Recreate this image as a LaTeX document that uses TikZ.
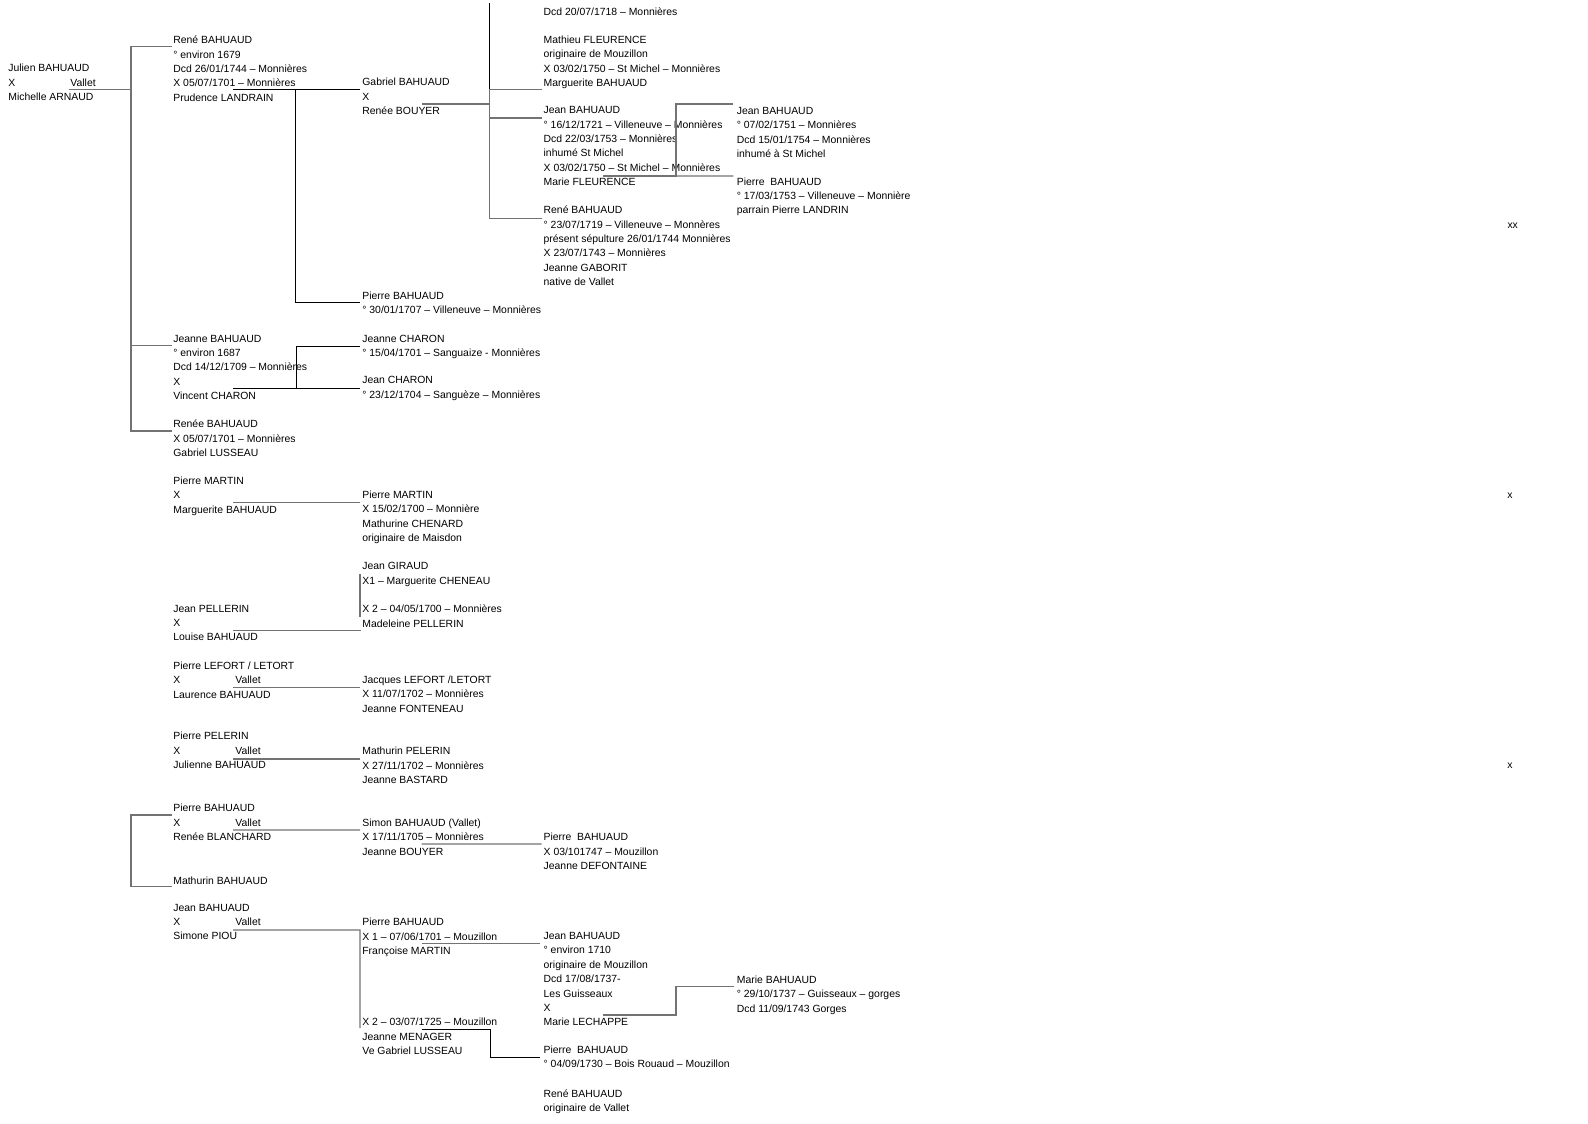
\documentclass[tikz,border=0pt]{standalone}
\usepackage{fontspec}
\setmainfont{Liberation Sans}
\usepackage{tikz}
\usetikzlibrary{calc}
\newcommand{\xvallet}{\rlap{X}\hspace*{32.9pt}Vallet}
\tikzset{
  pers/.style ={anchor=north west, inner sep=0pt, align=left,
                font=\fontsize{5.52}{7.62}\selectfont},
  xmk/.style  ={inner sep=0pt, font=\fontsize{5.52}{7.62}\selectfont},
  link/.style ={draw=black!55, line width=0.75pt},
  dlink/.style={draw=black, line width=0.5pt},
}
\begin{document}
\begin{tikzpicture}[x=0.53pt,y=-0.53pt]
\useasboundingbox (0,0) rectangle (1588,1123);

% generation 1
\node[pers] (julien) at (8,63.8) {Julien BAHUAUD\\ \xvallet\\ Michelle ARNAUD};

% generation 2
\node[pers] (rene)      at (173,35.6)  {René BAHUAUD\\° environ 1679\\Dcd 26/01/1744 – Monnières\\X 05/07/1701 – Monnières\\Prudence LANDRAIN};
\node[pers] (jeanne)    at (173,334.6) {Jeanne BAHUAUD\\° environ 1687\\Dcd 14/12/1709 – Monnières\\X\\Vincent CHARON};
\node[pers] (renee)     at (173,419.7) {Renée BAHUAUD\\X 05/07/1701 – Monnières\\Gabriel LUSSEAU};
\node[pers] (martinP)   at (173,476.6) {Pierre MARTIN\\X\\Marguerite BAHUAUD};
\node[pers] (pellerinJ) at (173,604.6) {Jean PELLERIN\\X\\Louise BAHUAUD};
\node[pers] (lefortP)   at (173,661.3) {Pierre LEFORT / LETORT\\ \xvallet\\Laurence BAHUAUD};
\node[pers] (pelerinP)  at (173,732)   {Pierre PELERIN\\ \xvallet\\Julienne BAHUAUD};
\node[pers] (bahuaudP)  at (173,804)   {Pierre BAHUAUD\\ \xvallet\\Renée BLANCHARD};
\node[pers] (mathurinB) at (173,876.3) {Mathurin BAHUAUD};
\node[pers] (bahuaudJ)  at (173,903.6) {Jean BAHUAUD\\ \xvallet\\Simone PIOU};

% generation 3
\node[pers] (gabriel)  at (362,78)     {Gabriel BAHUAUD\\X\\Renée BOUYER};
\node[pers] (pierreB)  at (362,291.3)  {Pierre BAHUAUD\\° 30/01/1707 – Villeneuve – Monnières};
\node[pers] (charonJe) at (362,334.6)  {Jeanne CHARON\\° 15/04/1701 – Sanguaize - Monnières};
\node[pers] (charonJ)  at (362,376.3)  {Jean CHARON\\° 23/12/1704 – Sanguèze – Monnières};
\node[pers] (martinP2) at (362,490.6)  {Pierre MARTIN\\X 15/02/1700 – Monnière\\Mathurine CHENARD\\originaire de Maisdon};
\node[pers] (giraud)   at (362,562)    {Jean GIRAUD\\X1 – Marguerite CHENEAU};
\node[pers] (giraud2)  at (362,604.6)  {X 2 – 04/05/1700 – Monnières\\Madeleine PELLERIN};
\node[pers] (lefortJ)  at (362,675.6)  {Jacques LEFORT /LETORT\\X 11/07/1702 – Monnières\\Jeanne FONTENEAU};
\node[pers] (pelerinM) at (362,747)    {Mathurin PELERIN\\X 27/11/1702 – Monnières\\Jeanne BASTARD};
\node[pers] (simon)    at (362,818.6)  {Simon BAHUAUD (Vallet)\\X 17/11/1705 – Monnières\\Jeanne BOUYER};
\node[pers] (pierreP)  at (362,918)    {Pierre BAHUAUD\\X 1 – 07/06/1701 – Mouzillon\\Françoise MARTIN};
\node[pers] (pierreP2) at (362,1018)   {X 2 – 03/07/1725 – Mouzillon\\Jeanne MENAGER\\Ve Gabriel LUSSEAU};

% generation 4
\node[pers] (dcd)     at (543.3,7)      {Dcd 20/07/1718 – Monnières};
\node[pers] (mathieu) at (543.3,35.6)   {Mathieu FLEURENCE\\originaire de Mouzillon\\X 03/02/1750 – St Michel – Monnières\\Marguerite BAHUAUD};
\node[pers] (jeanG)   at (543.3,106.3)  {Jean BAHUAUD\\° 16/12/1721 – Villeneuve – Monnières\\Dcd 22/03/1753 – Monnières\\inhumé St Michel\\X 03/02/1750 – St Michel – Monnières\\Marie FLEURENCE};
\node[pers] (reneG)   at (543.3,205.6)  {René BAHUAUD\\° 23/07/1719 – Villeneuve – Monnères\\présent sépulture 26/01/1744 Monnières\\X 23/07/1743 – Monnières\\Jeanne GABORIT\\native de Vallet};
\node[pers] (pierreS) at (543.3,833)    {Pierre\ \ BAHUAUD\\X 03/101747 – Mouzillon\\Jeanne DEFONTAINE};
\node[pers] (jeanP)   at (543.3,932)    {Jean BAHUAUD\\° environ 1710\\originaire de Mouzillon\\Dcd 17/08/1737-\\Les Guisseaux\\X\\Marie LECHAPPE};
\node[pers] (pierreM) at (543.3,1045.6) {Pierre\ \ BAHUAUD\\° 04/09/1730 – Bois Rouaud – Mouzillon};
\node[pers] (reneV)   at (543.3,1089)   {René BAHUAUD\\originaire de Vallet};

% generation 5
\node[pers] (jeanJ)   at (736.5,107)   {Jean BAHUAUD\\° 07/02/1751 – Monnières\\Dcd 15/01/1754 – Monnières\\inhumé à St Michel};
\node[pers] (pierreJ) at (736.5,177.3) {Pierre\ \ BAHUAUD\\° 17/03/1753 – Villeneuve – Monnière\\parrain Pierre LANDRIN};
\node[pers] (marieJ)  at (736.5,975.3) {Marie BAHUAUD\\° 29/10/1737 – Guisseaux – gorges\\Dcd 11/09/1743 Gorges};

% stray marks on the right
\node[xmk] (xx1) at (1512.7,225.3) {xx};
\node[xmk] (x2)  at (1510,495.3)   {x};
\node[xmk] (x3)  at (1510,766)     {x};

% Julien -> children
\draw[link] ($(julien.north west)+(61,25.5)$) -- ++(62,0) |- ($(rene.north west)+(-1.5,11.1)$);
\draw[link] ($(julien.north west)+(61,25.5)$) -- ++(62,0) |- ($(jeanne.north west)+(-1.5,10.8)$);
\draw[link] ($(julien.north west)+(61,25.5)$) -- ++(62,0) |- ($(renee.north west)+(-1.5,11.3)$);

% René -> Gabriel, Pierre
\draw[dlink] ($(rene.north west)+(60.3,53.7)$) -- ++(62,0) |- ($(gabriel.north west)+(-2,11.3)$);
\draw[dlink] ($(rene.north west)+(60.3,53.7)$) -- ++(62,0) |- ($(pierreB.north west)+(-2,11.4)$);

% Gabriel -> children
\draw[dlink] ($(gabriel.north west)+(60,26)$) -- ++(67.3,0) -- ++(0,-100.7);
\draw[link] ($(gabriel.north west)+(60,26)$) -- ++(67.3,0) |- ($(mathieu.north west)+(-1.6,53.7)$);
\draw[link] ($(gabriel.north west)+(60,26)$) -- ++(67.3,0) |- ($(jeanG.north west)+(-1.6,11.7)$);
\draw[link] ($(gabriel.north west)+(60,26)$) -- ++(67.3,0) |- ($(reneG.north west)+(-1.6,12.7)$);

% Jean x Marie FLEURENCE
\draw[link] ($(jeanG.north west)+(60,69.7)$) -- ++(72.7,0) |- ($(jeanJ.north west)+(-3.2,-3)$);
\draw[link] ($(jeanG.north west)+(60,69.7)$) -- ($(pierreJ.north west)+(-3.2,-1.3)$);

% Jeanne x Vincent CHARON
\draw[dlink] ($(jeanne.north west)+(60,53.4)$) -- ++(63,0) |- ($(charonJe.north west)+(-2,11.4)$);
\draw[dlink] ($(jeanne.north west)+(60,53.4)$) -- ($(charonJ.north west)+(-2,11.7)$);

% single couples
\draw[link] ($(martinP.north west)+(60.3,25.7)$) -- ($(martinP2.north west)+(-2,11.7)$);
\draw[link] ($(giraud.north west)+(-2,12)$) -- ($(giraud2.north west)+(-2,12.1)$);
\draw[link] ($(pellerinJ.north west)+(60.3,26.1)$) -- ($(giraud2.north west)+(-1.3,26.1)$);
\draw[link] ($(lefortP.north west)+(60,26.4)$) -- ($(lefortJ.north west)+(-2,12.1)$);
\draw[link] ($(pelerinP.north west)+(60.3,27)$) -- ($(pelerinM.north west)+(-2,12)$);

% Pierre / Mathurin
\draw[link] ($(bahuaudP.north west)+(-1.3,11)$) -- ++(-40.7,0) |- ($(mathurinB.north west)+(-1.3,10.4)$);
\draw[link] ($(bahuaudP.north west)+(60,26)$) -- ($(simon.north west)+(-2,11.4)$);
\draw[link] ($(simon.north west)+(59.7,25.4)$) -- ($(pierreS.north west)+(-1.6,11)$);

% Jean x Simone PIOU
\draw[link] ($(bahuaudJ.north west)+(60,26.4)$) -- ($(pierreP.north west)+(-2,12)$) -- ($(pierreP2.north west)+(-2,10)$);
\draw[link] ($(pierreP.north west)+(59.7,25.3)$) -- ($(jeanP.north west)+(-3.3,11.3)$);
\draw[dlink] ($(pierreP2.north west)+(59.7,11.3)$) -- ++(68.3,0) |- ($(pierreM.north west)+(-3.3,12.1)$);
\draw[link] ($(jeanP.north west)+(60,83)$) -- ++(72.7,0) |- ($(marieJ.north west)+(-2.5,11.4)$);
\end{tikzpicture}
\end{document}
